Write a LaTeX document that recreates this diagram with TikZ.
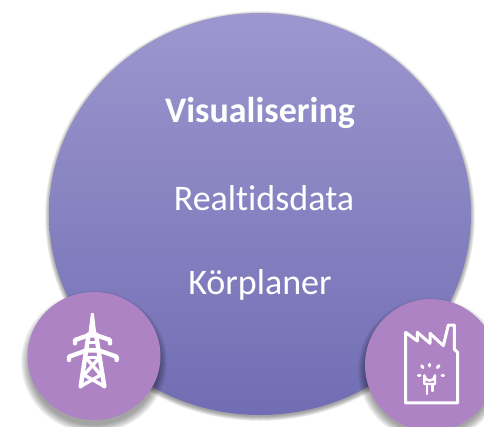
\documentclass[tikz,border=0pt]{standalone}
\usepackage{fontspec}
\setmainfont[Ligatures=NoCommon]{Carlito}
\definecolor{topviolet}{HTML}{9C97CE}
\definecolor{botviolet}{HTML}{716DB4}
\definecolor{orchid}{HTML}{AE83C4}
\tikzset{
  label text/.style={text=white,inner sep=0pt,anchor=center},
  icon line/.style={draw=white,line width=3pt,line join=round,line cap=round}
}
\newcommand{\softshadow}[6]{% cx cy rx ry dy spread
  \foreach \k in {0,...,9}{
    \fill[black,opacity=.045] (#1,#2+#5) ellipse [x radius={#3+#6-\k*#6/8},y radius={#4+#6-\k*#6/8}];
  }
}
\begin{document}
\begin{tikzpicture}[x=1pt,y=-1pt]
\useasboundingbox (0,0) rectangle (484,426);
\begin{scope}
\clip (0,0) rectangle (484,426);
\softshadow{260}{214}{211}{201}{2}{4}
\shade[top color=topviolet,bottom color=botviolet] (260,214) ellipse [x radius=211,y radius=201];
\softshadow{94}{358}{66}{64}{4}{7}
\fill[orchid] (94,356) ellipse [x radius=66.5,y radius=64];
\softshadow{431}{366}{66}{65}{4}{7}
\fill[orchid] (431,365) circle [radius=66];
\end{scope}
\node[label text,font=\bfseries\fontsize{36}{40}\selectfont] (t1) at (260,113) {Visualisering};
\node[label text,font=\fontsize{36}{40}\selectfont] (t2) at (264,198) {Realtidsdata};
\node[label text,font=\fontsize{36}{40}\selectfont] (t3) at (260,285) {Körplaner};
% pylon
\begin{scope}[shift={(60,305)},x=0.3333pt,y=-0.3333pt]
\fill[white,line join=round,draw=white,line width=1pt] (94,26) -- (100,26) -- (108,92) -- (86,92) -- cycle;
\draw[icon line,line width=4.4pt] (45,115) -- (45,105) -- (85,91) -- (110,91) -- (150,105) -- (150,115);
\draw[icon line,line width=4.4pt] (27,165) -- (27,155) -- (80,136) -- (116,136) -- (170,155) -- (170,165);
\draw[icon line,line width=4.4pt] (86,88) -- (62,244);
\draw[icon line,line width=4.4pt] (108,88) -- (133,244);
\draw[icon line,line width=2.8pt] (82,112) -- (113,112);
\draw[icon line,line width=3.4pt] (76,157) -- (120,157);
\draw[icon line,line width=3.4pt] (78,158) -- (122,210) -- (62,244);
\draw[icon line,line width=3.4pt] (118,158) -- (72,210) -- (133,244);
\end{scope}
% factory
\begin{scope}[shift={(395,315)},x=0.3333pt,y=-0.3333pt]
\draw[icon line] (32,264) -- (32,52) -- (67,78) -- (67,52) -- (105,85) -- (105,55) -- (145,92) -- (160,30) -- (178,30) -- (178,103) -- (188,112) -- (188,264) -- cycle;
\draw[icon line,line width=2.4pt] (88,207) -- (88,181) arc [start angle=180,end angle=0,radius=16] -- (120,207) -- cycle;
\draw[icon line,line width=2.4pt] (96,208) -- (96,237);
\draw[icon line,line width=2.4pt] (112,208) -- (112,228);
\draw[icon line,line width=3pt] (104,148) -- (104,153);
\draw[icon line,line width=3pt] (80,152) -- (84,158);
\draw[icon line,line width=3pt] (132,152) -- (127,158);
\draw[icon line,line width=3pt] (70,181) -- (75,181);
\draw[icon line,line width=3pt] (141,181) -- (146,181);
\end{scope}
\end{tikzpicture}
\end{document}
